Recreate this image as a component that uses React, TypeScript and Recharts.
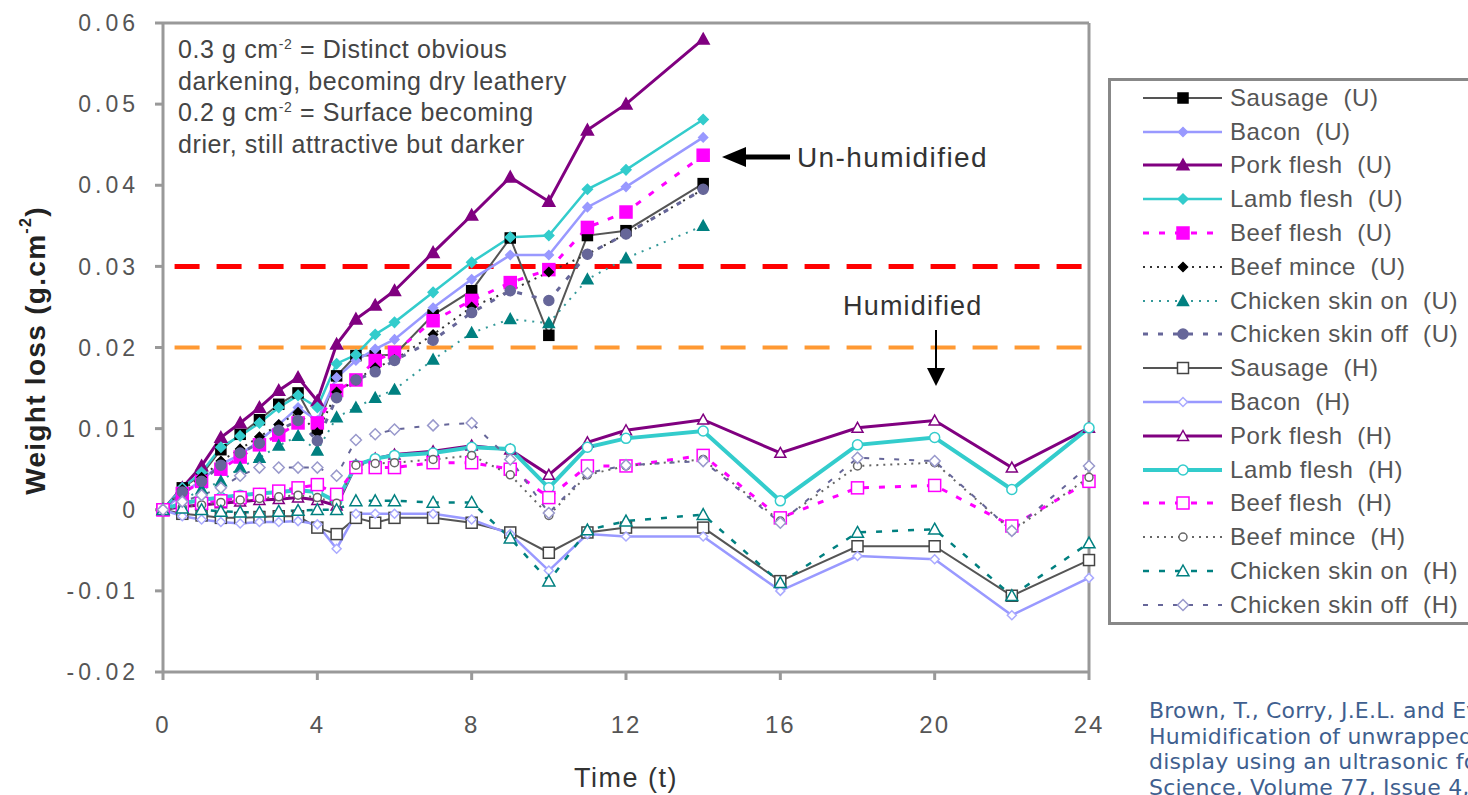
import { LineChart, Line, XAxis, YAxis, ReferenceLine, Legend } from "recharts";

// sampling times (hours); un-humidified runs stop at 14 h
const times = [0, 0.5, 1, 1.5, 2, 2.5, 3, 3.5, 4, 4.5, 5, 5.5, 6, 7, 8, 9, 10, 11, 12, 14, 16, 18, 20, 22, 24];

const xTicks = [0, 4, 8, 12, 16, 20, 24];
const yTicks = [-0.02, -0.01, 0, 0.01, 0.02, 0.03, 0.04, 0.05, 0.06];

// un-humidified (U)
const sausageU = [0, 0.0027, 0.0043, 0.0074, 0.0093, 0.0111, 0.013, 0.0144, 0.0101, 0.0165, 0.019, 0.019, 0.0191, 0.024, 0.027, 0.0335, 0.0215, 0.0338, 0.0344, 0.0402];
const baconU = [0, 0.0019, 0.0037, 0.0056, 0.0068, 0.0085, 0.0105, 0.0126, 0.011, 0.0163, 0.0184, 0.0198, 0.021, 0.0249, 0.0284, 0.0314, 0.0314, 0.0373, 0.0398, 0.0459];
const porkU = [0, 0.0027, 0.0054, 0.0089, 0.0107, 0.0126, 0.0147, 0.0163, 0.0134, 0.0204, 0.0235, 0.0252, 0.027, 0.0317, 0.0363, 0.041, 0.038, 0.0468, 0.05, 0.058];
const lambU = [0, 0.0027, 0.0046, 0.0077, 0.0091, 0.0107, 0.0126, 0.0141, 0.0126, 0.018, 0.0191, 0.0216, 0.0231, 0.0268, 0.0305, 0.0336, 0.0338, 0.0395, 0.0419, 0.0481];
const beefFleshU = [0, 0.002, 0.0035, 0.005, 0.0065, 0.008, 0.0092, 0.0107, 0.0107, 0.0147, 0.016, 0.0184, 0.0194, 0.0233, 0.0258, 0.028, 0.0296, 0.0348, 0.0367, 0.0437];
const beefMinceU = [0, 0.0025, 0.004, 0.006, 0.0075, 0.009, 0.0105, 0.012, 0.0095, 0.0145, 0.016, 0.0175, 0.0185, 0.0216, 0.025, 0.027, 0.0293, 0.0315, 0.034, 0.0395];
const chickenOnU = [0, 0.0012, 0.0025, 0.0035, 0.0052, 0.0064, 0.0079, 0.0091, 0.0073, 0.0114, 0.0126, 0.0138, 0.0148, 0.0185, 0.0218, 0.0235, 0.023, 0.0284, 0.031, 0.035];
const chickenOffU = [0, 0.0022, 0.0035, 0.0055, 0.007, 0.0082, 0.0098, 0.011, 0.0085, 0.0138, 0.016, 0.017, 0.0184, 0.0209, 0.0243, 0.027, 0.0258, 0.0315, 0.034, 0.0395];

// humidified (H)
const sausageH = [0, -0.0005, -0.0007, -0.001, -0.001, -0.0009, -0.0008, -0.0008, -0.0022, -0.003, -0.001, -0.0016, -0.001, -0.001, -0.0016, -0.0028, -0.0053, -0.0028, -0.0022, -0.0022, -0.0088, -0.0045, -0.0045, -0.0106, -0.0062];
const baconH = [0, -0.0008, -0.0012, -0.0015, -0.0017, -0.0015, -0.0015, -0.0014, -0.0018, -0.0048, -0.0005, -0.0005, -0.0005, -0.0005, -0.0012, -0.003, -0.0075, -0.003, -0.0033, -0.0033, -0.01, -0.0057, -0.0061, -0.013, -0.0084];
const porkH = [0, 0.0004, 0.0006, 0.0008, 0.001, 0.0012, 0.0013, 0.0015, 0.0012, 0.0005, 0.0055, 0.0063, 0.0068, 0.0072, 0.0079, 0.0074, 0.0043, 0.0083, 0.0098, 0.0111, 0.007, 0.0101, 0.011, 0.0052, 0.0101];
const lambH = [0, 0.0008, 0.0012, 0.0015, 0.0018, 0.002, 0.0022, 0.0024, 0.0022, 0.001, 0.0055, 0.0063, 0.0067, 0.007, 0.0077, 0.0075, 0.0027, 0.0077, 0.0088, 0.0097, 0.0011, 0.008, 0.0089, 0.0025, 0.0101];
const beefFleshH = [0, 0.0005, 0.0008, 0.0011, 0.0015, 0.0019, 0.0023, 0.0027, 0.0031, 0.0019, 0.0052, 0.0052, 0.0052, 0.0058, 0.0058, 0.005, 0.0015, 0.0054, 0.0054, 0.0067, -0.001, 0.0027, 0.003, -0.002, 0.0035];
const beefMinceH = [0, 0.0003, 0.0006, 0.0009, 0.0012, 0.0014, 0.0016, 0.0018, 0.0015, 0.0008, 0.0055, 0.0057, 0.0058, 0.0062, 0.0067, 0.0043, -0.0007, 0.0043, 0.0054, 0.0062, -0.0014, 0.0054, 0.0058, -0.0026, 0.004];
const chickenOnH = [0, 0.0002, 0, -0.0002, -0.0003, -0.0003, -0.0002, -0.0001, 0, 0, 0.0011, 0.0011, 0.0011, 0.0009, 0.0009, -0.0035, -0.0088, -0.0025, -0.0014, -0.0006, -0.009, -0.0028, -0.0024, -0.0106, -0.0041];
const chickenOffH = [0, 0.001, 0.0018, 0.0027, 0.0042, 0.0052, 0.0052, 0.0052, 0.0052, 0.0042, 0.0086, 0.0093, 0.0099, 0.0104, 0.0107, 0.0062, -0.0004, 0.0045, 0.0055, 0.006, -0.0016, 0.0064, 0.006, -0.0026, 0.0054];

type Shape = "square" | "diamond" | "triangle" | "circle";

interface Series {
  key: string;
  name: string;
  values: number[];
  color: string;
  width: number;
  dash?: string;
  shape: Shape;
  markColor: string;
  filled: boolean;
  size: number;
}

const series: Series[] = [
  { key: "sausageU", name: "Sausage  (U)", values: sausageU, color: "#555", width: 2, shape: "square", markColor: "#000", filled: true, size: 10 },
  { key: "baconU", name: "Bacon  (U)", values: baconU, color: "#9999ff", width: 2.5, shape: "diamond", markColor: "#9999ff", filled: true, size: 9 },
  { key: "porkU", name: "Pork flesh  (U)", values: porkU, color: "#800080", width: 3, shape: "triangle", markColor: "#800080", filled: true, size: 12 },
  { key: "lambU", name: "Lamb flesh  (U)", values: lambU, color: "#33cccc", width: 2.5, shape: "diamond", markColor: "#33cccc", filled: true, size: 10 },
  { key: "beefFleshU", name: "Beef flesh  (U)", values: beefFleshU, color: "#ff00ff", width: 3, dash: "6 10", shape: "square", markColor: "#ff00ff", filled: true, size: 12 },
  { key: "beefMinceU", name: "Beef mince  (U)", values: beefMinceU, color: "#333", width: 2, dash: "2 5", shape: "diamond", markColor: "#000", filled: true, size: 9 },
  { key: "chickenOnU", name: "Chicken skin on  (U)", values: chickenOnU, color: "#339999", width: 2, dash: "2 6", shape: "triangle", markColor: "#008080", filled: true, size: 11 },
  { key: "chickenOffU", name: "Chicken skin off  (U)", values: chickenOffU, color: "#666699", width: 3, dash: "5 10", shape: "circle", markColor: "#666699", filled: true, size: 10 },
  { key: "sausageH", name: "Sausage  (H)", values: sausageH, color: "#555", width: 2, shape: "square", markColor: "#444", filled: false, size: 11 },
  { key: "baconH", name: "Bacon  (H)", values: baconH, color: "#9999ff", width: 2.5, shape: "diamond", markColor: "#aaaaff", filled: false, size: 9 },
  { key: "porkH", name: "Pork flesh  (H)", values: porkH, color: "#800080", width: 3, shape: "triangle", markColor: "#800080", filled: false, size: 11 },
  { key: "lambH", name: "Lamb flesh  (H)", values: lambH, color: "#33cccc", width: 4, shape: "circle", markColor: "#33cccc", filled: false, size: 10 },
  { key: "beefFleshH", name: "Beef flesh  (H)", values: beefFleshH, color: "#ff00ff", width: 3, dash: "6 10", shape: "square", markColor: "#ff00ff", filled: false, size: 12 },
  { key: "beefMinceH", name: "Beef mince  (H)", values: beefMinceH, color: "#666", width: 2, dash: "2 5", shape: "circle", markColor: "#666", filled: false, size: 8 },
  { key: "chickenOnH", name: "Chicken skin on  (H)", values: chickenOnH, color: "#008080", width: 2.5, dash: "6 10", shape: "triangle", markColor: "#008080", filled: false, size: 12 },
  { key: "chickenOffH", name: "Chicken skin off  (H)", values: chickenOffH, color: "#666699", width: 2, dash: "5 10", shape: "diamond", markColor: "#9999cc", filled: false, size: 11 },
];

const rows = times.map((t, i) => {
  const row: Record<string, number | undefined> = { t };
  series.forEach((s) => {
    row[s.key] = s.values[i];
  });
  return row;
});

function Mark({ s, cx, cy }: { s: Series; cx: number; cy: number }) {
  const fill = s.filled ? s.markColor : "#fff";
  const r = s.size / 2;
  const common = { fill, stroke: s.markColor, strokeWidth: 1.5 };
  if (s.shape === "square") return <rect x={cx - r} y={cy - r} width={s.size} height={s.size} {...common} />;
  if (s.shape === "diamond")
    return <polygon points={`${cx},${cy - r} ${cx + r},${cy} ${cx},${cy + r} ${cx - r},${cy}`} {...common} />;
  if (s.shape === "triangle")
    return <polygon points={`${cx},${cy - r} ${cx + r},${cy + r * 0.8} ${cx - r},${cy + r * 0.8}`} {...common} />;
  return <circle cx={cx} cy={cy} r={r} {...common} />;
}

const dotFor = (s: Series) => (props: any) => {
  const { cx, cy, index } = props;
  if (cx == null || cy == null || s.values[index] == null) return <g key={`${s.key}-${index}`} />;
  return (
    <g key={`${s.key}-${index}`}>
      <Mark s={s} cx={cx} cy={cy} />
    </g>
  );
};

const LegendBox = () => (
  <div
    style={{
      width: 370,
      height: 547,
      border: "3px solid #888",
      boxSizing: "border-box",
      background: "#fff",
      fontFamily: "'Liberation Sans', Arial, sans-serif",
    }}
  >
    {series.map((s) => (
      <div key={s.key} style={{ display: "flex", alignItems: "center", height: 33.8 }}>
        <svg width={119} height={22} style={{ flex: "none" }}>
          <line x1={32} x2={111} y1={11} y2={11} stroke={s.color} strokeWidth={s.width} strokeDasharray={s.dash} />
          <Mark s={s} cx={72} cy={11} />
        </svg>
        <span style={{ fontSize: 24, color: "#555", letterSpacing: 0.6, whiteSpace: "pre", lineHeight: "24px" }}>
          {s.name}
        </span>
      </div>
    ))}
  </div>
);

const YTitle = ({ viewBox }: any) => {
  const cx = (viewBox?.x ?? 0) + 35;
  const cy = (viewBox?.y ?? 23) + (viewBox?.height ?? 649) / 2 + 3;
  return (
    <text
      transform={`translate(${cx},${cy}) rotate(-90)`}
      textAnchor="middle"
      dominantBaseline="central"
      fontSize={28}
      fontWeight="bold"
      fill="#222"
      letterSpacing={1.3}
    >
      Weight loss (g.cm
      <tspan dy={-10} fontSize={16}>
        -2
      </tspan>
      <tspan dy={10}>)</tspan>
    </text>
  );
};

const noteLines: { text: string; sup?: string; rest?: string }[] = [
  { text: "0.3 g cm", sup: "-2", rest: " = Distinct obvious" },
  { text: "darkening, becoming dry leathery" },
  { text: "0.2 g cm", sup: "-2", rest: " = Surface becoming" },
  { text: "drier, still attractive but darker" },
];

const citation = [
  "Brown, T., Corry, J.E.L. and Evans, J.A.",
  "Humidification of unwrapped chilled meat on retail",
  "display using an ultrasonic fogging system. Meat",
  "Science, Volume 77, Issue 4,",
];

const Notes = () => (
  <svg width={1468} height={795} style={{ position: "absolute", left: 0, top: 0, pointerEvents: "none" }}>
    {noteLines.map((l, i) => (
      <text key={i} x={178} y={58 + i * 31.5} fontSize={25} fill="#444" letterSpacing={0.6}>
        {l.text}
        {l.sup && (
          <tspan dy={-9} fontSize={14}>
            {l.sup}
          </tspan>
        )}
        {l.rest && <tspan dy={9}>{l.rest}</tspan>}
      </text>
    ))}
    {/* Un-humidified arrow */}
    <line x1={790} x2={740} y1={157} y2={157} stroke="#000" strokeWidth={5} />
    <polygon points="722,157 746,147 746,167" fill="#000" />
    <text x={797} y={167} fontSize={28} fill="#333" letterSpacing={1.4}>
      Un-humidified
    </text>
    {/* Humidified arrow */}
    <text x={843} y={315} fontSize={27} fill="#333" letterSpacing={1.2}>
      Humidified
    </text>
    <line x1={936} x2={936} y1={330} y2={370} stroke="#000" strokeWidth={2} />
    <polygon points="936,386 927,368 945,368" fill="#000" />
  </svg>
);

export default function App() {
  return (
    <div
      style={{
        position: "absolute",
        left: 0,
        top: 0,
        width: 1468,
        height: 795,
        background: "#fff",
        overflow: "hidden",
        fontFamily: "'Liberation Sans', Arial, sans-serif",
      }}
    >
      <LineChart width={1468} height={795} data={rows} margin={{ top: 23, right: 379, bottom: 0, left: 0 }}>
        <XAxis
          dataKey="t"
          type="number"
          domain={[0, 24]}
          ticks={xTicks}
          height={123}
          stroke="#999"
          strokeWidth={3}
          tickSize={8}
          tickMargin={36}
          tick={{ fill: "#555", fontSize: 24, letterSpacing: 2 }}
          label={{ value: "Time (t)", position: "insideBottom", offset: 8, fill: "#333", fontSize: 27, letterSpacing: 1.5 }}
        />
        <YAxis
          type="number"
          domain={[-0.02, 0.06]}
          ticks={yTicks}
          width={163}
          stroke="#999"
          strokeWidth={3}
          tickSize={8}
          tickMargin={16}
          tick={{ fill: "#555", fontSize: 23, letterSpacing: 4 }}
          tickFormatter={(v: number) => (v === 0 ? "0" : v.toFixed(2))}
          interval={0}
          label={<YTitle />}
        />
        <ReferenceLine y={0.06} stroke="#999" strokeWidth={3} />
        <ReferenceLine x={24} stroke="#999" strokeWidth={3} />
        <ReferenceLine
          segment={[
            { x: 0.3, y: 0.03 },
            { x: 24, y: 0.03 },
          ]}
          stroke="#ff0000"
          strokeWidth={5}
          strokeDasharray="25 17"
        />
        <ReferenceLine
          segment={[
            { x: 0.3, y: 0.02 },
            { x: 24, y: 0.02 },
          ]}
          stroke="#ff9933"
          strokeWidth={4}
          strokeDasharray="25 17"
        />
        {series.map((s) => (
          <Line
            key={s.key}
            dataKey={s.key}
            name={s.name}
            type="linear"
            stroke={s.color}
            strokeWidth={s.width}
            strokeDasharray={s.dash}
            dot={dotFor(s)}
            activeDot={false}
            isAnimationActive={false}
          />
        ))}
        <Legend
          layout="vertical"
          align="center"
          verticalAlign="middle"
          content={() => <LegendBox />}
          wrapperStyle={{ left: 1108, top: 78, width: 370, height: 547 }}
        />
      </LineChart>
      <Notes />
      {/* source note, runs past the right edge of the page */}
      <div
        style={{
          position: "absolute",
          left: 1149,
          top: 698,
          fontFamily: "'DejaVu Sans', Verdana, sans-serif",
          fontSize: 22,
          letterSpacing: 0.2,
          lineHeight: "25.5px",
          color: "#3f5f8f",
          whiteSpace: "nowrap",
        }}
      >
        {citation.map((c) => (
          <div key={c}>{c}</div>
        ))}
      </div>
    </div>
  );
}
